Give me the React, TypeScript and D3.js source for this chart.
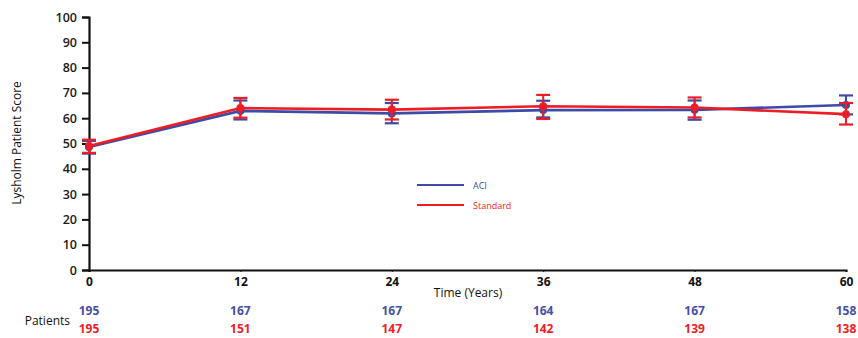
import React, { useEffect, useRef } from "react";
import * as d3 from "d3";

const months = [0, 12, 24, 36, 48, 60];
const aciMean = [48.6, 62.9, 61.9, 63.2, 63.3, 65.2];
const aciLow = [46, 59.5, 58, 60.3, 59.4, 61.5];
const aciHigh = [51, 67, 66, 66.9, 67, 69];
const stdMean = [49, 64, 63.4, 64.7, 64.2, 61.6];
const stdLow = [46.3, 60.2, 59.5, 59.7, 60.3, 57.5];
const stdHigh = [51.5, 68, 67.3, 69.2, 68.2, 66];
const aciPatients = [195, 167, 167, 164, 167, 158];
const stdPatients = [195, 151, 147, 142, 139, 138];
const yTicks = [0, 10, 20, 30, 40, 50, 60, 70, 80, 90, 100];

const BLUE = "#3c4ba6";
const RED = "#ee1c25";

const App = () => {
  const ref = useRef<SVGSVGElement>(null);

  useEffect(() => {
    const width = 858;
    const height = 338;
    const svg = d3.select(ref.current);
    svg.selectAll("*").remove();
    svg.attr("width", width).attr("height", height);

    const x = d3.scaleLinear().domain([0, 60]).range([89, 846]);
    const y = d3.scaleLinear().domain([0, 100]).range([270, 17]);
    const font = "'Open Sans', 'Noto Sans', sans-serif";

    // y axis
    const yAxis = svg
      .append("g")
      .attr("transform", "translate(89,0)")
      .call(d3.axisLeft(y).tickValues(yTicks).tickSize(7).tickPadding(5));
    yAxis.select(".domain").attr("stroke", "#111").attr("stroke-width", 2.2);
    yAxis.selectAll(".tick line").attr("stroke", "#111").attr("stroke-width", 2);
    yAxis
      .selectAll(".tick text")
      .attr("font-family", font)
      .attr("font-size", 12.5)
      .attr("font-weight", 600)
      .attr("fill", "#1a1a1a");

    // x axis
    const xAxis = svg
      .append("g")
      .attr("transform", "translate(0,270)")
      .call(d3.axisBottom(x).tickValues(months).tickSize(2).tickPadding(5));
    xAxis.select(".domain").attr("stroke", "#111").attr("stroke-width", 2.2);
    xAxis.selectAll(".tick line").attr("stroke", "#111");
    xAxis
      .selectAll(".tick text")
      .attr("font-family", font)
      .attr("font-size", 12)
      .attr("font-weight", 700)
      .attr("fill", "#111");

    svg
      .append("text")
      .attr("transform", "translate(21,143) rotate(-90)")
      .attr("text-anchor", "middle")
      .attr("font-family", font)
      .attr("font-size", 12)
      .attr("fill", "#111")
      .text("Lysholm Patient Score");

    svg
      .append("text")
      .attr("x", 468)
      .attr("y", 297)
      .attr("text-anchor", "middle")
      .attr("font-family", font)
      .attr("font-size", 12)
      .attr("fill", "#111")
      .text("Time (Years)");

    const series = [
      { mean: aciMean, low: aciLow, high: aciHigh, color: BLUE, dy: 1 },
      { mean: stdMean, low: stdLow, high: stdHigh, color: RED, dy: 0 },
    ];

    const line = d3
      .line<number>()
      .x((d, i) => x(months[i]))
      .y((d) => y(d));

    series.forEach((s) => {
      const g = svg.append("g");
      months.forEach((m, i) => {
        const cx = x(m);
        g.append("line")
          .attr("x1", cx).attr("x2", cx)
          .attr("y1", y(s.low[i])).attr("y2", y(s.high[i]))
          .attr("stroke", s.color).attr("stroke-width", 2);
        [s.low[i], s.high[i]].forEach((v) => {
          g.append("line")
            .attr("x1", cx - 7).attr("x2", cx + 7)
            .attr("y1", y(v)).attr("y2", y(v))
            .attr("stroke", s.color).attr("stroke-width", 2.2);
        });
      });
      g.append("path")
        .datum(s.mean)
        .attr("d", line)
        .attr("fill", "none")
        .attr("stroke", s.color)
        .attr("stroke-width", 2.6);
      g.selectAll("circle")
        .data(s.mean)
        .enter()
        .append("circle")
        .attr("cx", (d, i) => x(months[i]))
        .attr("cy", (d) => y(d))
        .attr("r", 4)
        .attr("fill", s.color);
    });

    // legend
    const legend = [
      { label: "ACI", color: BLUE, y: 185 },
      { label: "Standard", color: RED, y: 205 },
    ];
    legend.forEach((l) => {
      svg.append("line")
        .attr("x1", 417).attr("x2", 464)
        .attr("y1", l.y).attr("y2", l.y)
        .attr("stroke", l.color).attr("stroke-width", 2);
      svg.append("text")
        .attr("x", 473).attr("y", l.y + 3.5)
        .attr("font-family", font)
        .attr("font-size", 9)
        .attr("fill", l.color)
        .text(l.label);
    });

    // patients at risk
    svg
      .append("text")
      .attr("x", 70)
      .attr("y", 325)
      .attr("text-anchor", "end")
      .attr("font-family", font)
      .attr("font-size", 12)
      .attr("fill", "#111")
      .text("Patients");

    [
      { vals: aciPatients, color: "#4550a6", y: 315 },
      { vals: stdPatients, color: RED, y: 333 },
    ].forEach((r) => {
      svg
        .append("g")
        .selectAll("text")
        .data(r.vals)
        .enter()
        .append("text")
        .attr("x", (d, i) => x(months[i]))
        .attr("y", r.y)
        .attr("text-anchor", "middle")
        .attr("font-family", font)
        .attr("font-size", 12)
        .attr("font-weight", 700)
        .attr("fill", r.color)
        .text((d) => d);
    });
  }, []);

  return <svg ref={ref} style={{ position: "absolute", left: 0, top: 0 }}></svg>;
};

export default App;
